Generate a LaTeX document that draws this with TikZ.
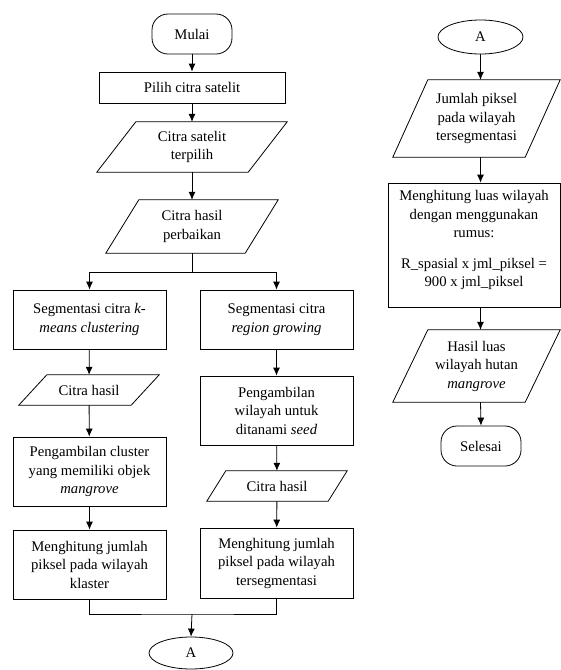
\documentclass[tikz,border=0pt]{standalone}
\usepackage{fontspec}
\setmainfont{Liberation Serif}
\newfontfamily\tnr{Liberation Serif}
\usetikzlibrary{arrows.meta,shapes.geometric}
\newcommand\paraoutline[2]{\draw[line width=0.8pt] (#1.south west) -- ([xshift=#2]#1.north west) -- (#1.north east) -- ([xshift=-#2]#1.south east) -- cycle;}
\begin{document}
\begin{tikzpicture}[x=1pt,y=-1pt,
  every node/.style={font=\tnr\fontsize{14.7}{18.5}\selectfont, align=center, inner sep=0pt},
  term/.style={draw, line width=0.8pt, rounded corners=16pt},
  procbox/.style={draw, line width=0.8pt},
  paranode/.style={},
  conn/.style={ellipse, draw, line width=0.8pt},
  arr/.style={line width=0.8pt, -{Latex[length=8pt,width=7pt]}},
  ln/.style={line width=0.8pt}]
\useasboundingbox (0,0) rectangle (561,670);
% left column
\node[term, minimum width=80pt, minimum height=40pt] (mulai) at (192,34) {Mulai};
\node[procbox, minimum width=186pt, minimum height=31pt] (pilih) at (192,87.5) {Pilih citra satelit};
\node[paranode, minimum width=190pt, minimum height=50pt] (terpilih) at (192,147) {Citra satelit\\terpilih};
\paraoutline{terpilih}{39pt}
\node[paranode, minimum width=172pt, minimum height=53pt] (perbaikan) at (192,226.5) {Citra hasil\\perbaikan};
\paraoutline{perbaikan}{33pt}
\node[procbox, minimum width=153pt, minimum height=59pt] (kmeans) at (89.5,319.5) {Segmentasi citra \textit{k-}\\\textit{means clustering}};
\node[procbox, minimum width=153pt, minimum height=59pt] (region) at (276.5,319.5) {Segmentasi citra\\\textit{region growing}};
\node[paranode, minimum width=140pt, minimum height=30pt] (hasilL) at (89,390) {Citra hasil};
\paraoutline{hasilL}{28pt}
\node[procbox, minimum width=153pt, minimum height=69pt] (ambilL) at (89.5,471.5) {Pengambilan cluster\\yang memiliki objek\\\textit{mangrove}};
\node[procbox, minimum width=153pt, minimum height=69pt] (hitL) at (89.5,564.5) {Menghitung jumlah\\piksel pada wilayah\\klaster};
\node[procbox, minimum width=153pt, minimum height=69pt] (ambilR) at (276.5,410.5) {Pengambilan\\wilayah untuk\\ditanami \textit{seed}};
\node[paranode, minimum width=140pt, minimum height=30pt] (hasilR) at (277,486) {Citra hasil};
\paraoutline{hasilR}{19pt}
\node[procbox, minimum width=153pt, minimum height=70pt] (hitR) at (276.5,563) {Menghitung jumlah\\piksel pada wilayah\\tersegmentasi};
\node[conn, minimum width=84pt, minimum height=32pt] (aL) at (191,653) {A};
% right column
\node[conn, minimum width=85pt, minimum height=34pt] (aR) at (480.5,37) {A};
\node[paranode, minimum width=167pt, minimum height=77pt] (jumlah) at (476.5,118.5) {Jumlah piksel\\pada wilayah\\tersegmentasi};
\paraoutline{jumlah}{35pt}
\node[procbox, minimum width=172pt, minimum height=124pt] (luas) at (474,245) {Menghitung luas wilayah\\dengan menggunakan\\rumus:\\[12pt]R\_spasial x jml\_piksel =\\900 x jml\_piksel\\[-6pt]};
\node[paranode, minimum width=167pt, minimum height=72pt] (hasilLuas) at (476.5,366) {Hasil luas\\wilayah hutan\\\textit{mangrove}};
\paraoutline{hasilLuas}{35pt}
\node[term, minimum width=80pt, minimum height=40pt] (selesai) at (481,446) {Selesai};
% connectors left
\draw[arr] (mulai) -- (pilih);
\draw[arr] (pilih) -- (terpilih);
\draw[arr] (terpilih) -- (perbaikan);
\coordinate (split) at (192,272);
\draw[ln] (perbaikan.south) -- (split);
\draw[arr] (split) -| (kmeans.north);
\draw[arr] (split) -| (region.north);
\draw[arr] (kmeans) -- (hasilL);
\draw[arr] (hasilL) -- (ambilL);
\draw[arr] (ambilL) -- (hitL);
\draw[arr] (region) -- (ambilR);
\draw[arr] (ambilR) -- (hasilR);
\draw[arr] (hasilR) -- (hitR);
\coordinate (merge) at (192,614);
\draw[ln] (hitL.south) |- (merge) -| (hitR.south);
\draw[arr] (merge) -- (aL.north);
% connectors right
\draw[arr] (aR.south) -- (aR.south |- jumlah.north);
\draw[arr] (aR.south |- jumlah.south) -- (aR.south |- luas.north);
\draw[arr] (aR.south |- luas.south) -- (aR.south |- hasilLuas.north);
\draw[arr] (aR.south |- hasilLuas.south) -- (selesai.north);
\end{tikzpicture}
\end{document}
